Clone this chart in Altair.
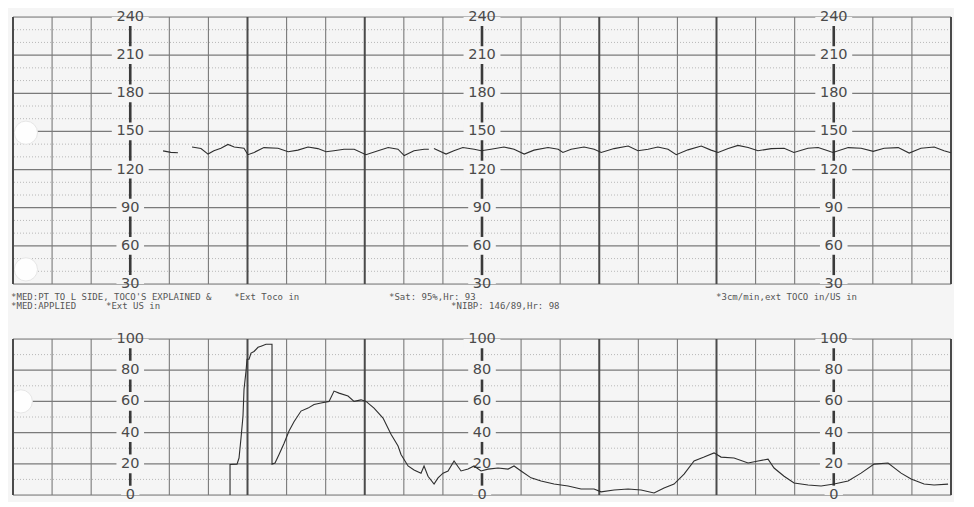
import altair as alt
import pandas as pd

# ---------------- data ----------------
# Fetal heart rate trace: time (min), bpm, segment id (breaks where signal is lost)
fhr_t = [3.84, 4.04, 4.22,
         4.58, 4.81, 4.99, 5.14, 5.32, 5.50, 5.66, 5.91, 6.01, 6.17, 6.42, 6.78, 7.04, 7.29,
         7.55, 7.80, 8.01, 8.21, 8.47, 8.73, 9.03, 9.34, 9.60, 9.85, 10.01, 10.26, 10.52, 10.64,
         10.77, 11.08, 11.28, 11.51, 11.80, 11.98, 12.23, 12.56, 12.82, 13.08, 13.33, 13.69,
         13.95, 14.07, 14.28, 14.61, 14.87, 15.05, 15.38, 15.74, 15.99, 16.25, 16.50, 16.76,
         16.97, 17.27, 17.61, 17.86, 18.04, 18.30, 18.55, 18.81, 19.06, 19.40, 19.73, 19.98,
         20.34, 20.60, 20.85, 20.98, 21.37, 21.70, 22.01, 22.29, 22.65, 22.93, 23.23, 23.57,
         23.82, 24.0]
fhr_v = [134.7, 133.5, 133.2,
         137.8, 136.6, 132.2, 134.8, 136.8, 139.8, 137.8, 136.8, 131.7, 133.5, 137.3, 136.8, 134.0, 135.3,
         137.8, 136.5, 134.0, 134.8, 136.0, 136.0, 131.7, 134.8, 137.3, 136.0, 131.0, 134.8, 136.0, 136.0,
         136.5, 132.2, 134.8, 137.3, 136.0, 134.8, 136.0, 137.8, 136.0, 132.2, 135.3, 137.3,
         136.0, 133.5, 136.0, 137.8, 136.0, 133.5, 136.5, 138.5, 134.8, 136.0, 137.8, 136.0,
         131.7, 135.5, 138.5, 135.3, 133.5, 136.5, 139.0, 137.3, 134.8, 136.5, 136.8, 133.5,
         136.8, 137.3, 134.8, 133.5, 137.3, 136.8, 134.3, 136.8, 137.3, 133.0, 136.8, 137.8,
         134.8, 133.2]
fhr_seg = [1] * 3 + [2] * 28 + [3] * 50

# Uterine activity (toco) trace: time (min), value
toco_t = [5.553, 5.553, 5.732, 5.783, 5.834, 5.885, 5.911, 5.962, 5.988, 6.039, 6.090, 6.167,
          6.269, 6.346, 6.474, 6.627, 6.627, 6.704, 6.807, 6.934, 7.062, 7.190, 7.369, 7.549,
          7.702, 7.881, 8.086, 8.214, 8.342, 8.572, 8.726, 8.905, 9.033, 9.237, 9.468, 9.672,
          9.852, 9.928, 10.108, 10.261, 10.440, 10.517, 10.619, 10.773, 10.875, 11.003, 11.131,
          11.285, 11.464, 11.643, 11.796, 11.975, 12.155, 12.410, 12.666, 12.820, 12.999, 13.255,
          13.511, 13.843, 14.202, 14.534, 14.867, 15.046, 15.379, 15.737, 16.070, 16.402, 16.658,
          16.914, 17.170, 17.426, 17.682, 17.937, 18.117, 18.449, 18.808, 19.064, 19.319, 19.473,
          19.729, 19.985, 20.343, 20.676, 21.008, 21.366, 21.699, 22.032, 22.390, 22.723, 22.979,
          23.311, 23.567, 23.925]
toco_v = [0, 19.6, 19.8, 23.7, 36.5, 50.6, 67.8, 79.4, 87, 87, 91, 92,
          94.7, 95.4, 96.6, 96.6, 19.8, 20.5, 26, 33, 41, 47, 53.8, 55.7,
          58, 59, 60, 66.6, 65.3, 63.4, 60, 61, 60, 55.7, 49.3, 39,
          31.4, 26, 18.6, 16, 14, 18.6, 12, 7, 11, 14, 15.4,
          21.8, 15.4, 16.6, 18.6, 15.4, 16.6, 17.3, 16.6, 18.6, 15.4, 11,
          9, 7, 5.8, 3.8, 3.8, 2, 3.2, 3.8, 3.2, 1.3, 4.5,
          7, 13.4, 21.8, 24.3, 27, 24.3, 23.7, 20.5, 21.8, 23, 17.3,
          12, 7.7, 6.4, 5.8, 7, 9, 14, 19.8, 20.5, 14, 10.2,
          7, 6.4, 7]

# grid
minutes_minor = [1, 2, 4, 5, 7, 8, 10, 11, 13, 14, 16, 17, 19, 20, 22, 23]
minutes_major = [0, 6, 9, 15, 18, 24]
label_minutes = [3, 12, 21]
fhr_ticks = [30, 60, 90, 120, 150, 180, 210, 240]
fhr_dotted = [40, 50, 70, 80, 100, 110, 130, 140, 160, 170, 190, 200, 220, 230]
toco_ticks = [0, 20, 40, 60, 80, 100]
toco_dotted = [10, 30, 50, 70, 90]

# punch holes of the paper strip (time, value on each panel's scale)
fhr_holes_t = [0.33, 0.33]
fhr_holes_v = [149, 41.5]
toco_holes_t = [0.2]
toco_holes_v = [60]

# annotations printed on the strip, below the FHR grid (y on the FHR scale)
ann_text = ["*MED:PT TO L SIDE, TOCO'S EXPLAINED &", "*Ext Toco in", "*Sat: 95%,Hr: 93",
            "*3cm/min,ext TOCO in/US in", "*MED:APPLIED", "*Ext US in", "*NIBP: 146/89,Hr: 98"]
ann_t = [-0.05, 5.66, 9.62, 17.99, -0.05, 2.38, 11.21]
ann_y = [19.8, 19.8, 19.8, 19.8, 12.7, 12.7, 12.7]

# ---------------- styling ----------------
BG = "#f5f5f5"
MINOR = "#7a7a7a"
MAJOR = "#4a4a4a"
TRACE = "#2e2e2e"
W = 938
PX_PER_MIN = W / 24.0

xs = alt.Scale(domain=[0, 24], nice=False, zero=False)


def panel(ticks, dotted, yscale, height, lab_half, extra_layers, holes_t, holes_v):
    df_minor = pd.DataFrame({"t": minutes_minor})
    df_major = pd.DataFrame({"t": minutes_major})
    df_lab = pd.DataFrame({"t": label_minutes})
    df_ticks = pd.DataFrame({"v": ticks})
    df_dot = pd.DataFrame({"v": dotted})
    df_holes = pd.DataFrame({"t": holes_t, "v": holes_v})
    df_labels = pd.DataFrame([{"t": t, "v": v, "lab": str(v)} for t in label_minutes for v in ticks])

    dots = alt.Chart(df_dot).mark_rule(color="#b8b8b8", strokeDash=[1, 2], strokeWidth=1).encode(
        y=alt.Y("v:Q", scale=yscale, axis=None))
    vminor = alt.Chart(df_minor).mark_rule(color=MINOR, strokeWidth=1.1).encode(
        x=alt.X("t:Q", scale=xs, axis=None))
    hlines = alt.Chart(df_ticks).mark_rule(color=MINOR, strokeWidth=1.2).encode(
        y=alt.Y("v:Q", scale=yscale, axis=None))
    holes = alt.Chart(df_holes).mark_circle(
        size=540, color="#fefefe", opacity=1, stroke="#e6e6e6", strokeWidth=1, clip=True
    ).encode(x=alt.X("t:Q", scale=xs, axis=None), y=alt.Y("v:Q", scale=yscale, axis=None))
    vmajor = alt.Chart(df_major).mark_rule(color=MAJOR, strokeWidth=2).encode(
        x=alt.X("t:Q", scale=xs, axis=None))
    vlab = alt.Chart(df_lab).mark_rule(color="#3a3a3a", strokeWidth=2.6).encode(
        x=alt.X("t:Q", scale=xs, axis=None))
    rects = alt.Chart(df_labels).transform_calculate(
        hw=f"(length(datum.lab) * 9.3 + 9) / 2 / {PX_PER_MIN}",
        x1="datum.t - datum.hw", x2="datum.t + datum.hw",
        y1=f"datum.v - {lab_half}", y2=f"datum.v + {lab_half}",
    ).mark_rect(color=BG, clip=True).encode(
        x=alt.X("x1:Q", scale=xs, axis=None), x2="x2:Q",
        y=alt.Y("y1:Q", scale=yscale, axis=None), y2="y2:Q")
    texts = alt.Chart(df_labels).mark_text(
        font="DejaVu Sans", fontSize=14.5, color="#4a4a4a", align="center", baseline="middle"
    ).encode(x=alt.X("t:Q", scale=xs, axis=None), y=alt.Y("v:Q", scale=yscale, axis=None),
             text="lab:N")
    return alt.layer(dots, vminor, hlines, holes, vmajor, vlab, rects, texts, *extra_layers).properties(
        width=W, height=height)


# top panel (FHR) with the printed annotations beneath it
fhr_scale = alt.Scale(domain=[30, 240], nice=False, zero=False)
df_fhr = pd.DataFrame({"t": fhr_t, "v": fhr_v, "seg": fhr_seg})
fhr_line = alt.Chart(df_fhr).mark_line(color=TRACE, strokeWidth=1.1).encode(
    x=alt.X("t:Q", scale=xs, axis=None), y=alt.Y("v:Q", scale=fhr_scale, axis=None),
    detail="seg:N")
df_ann = pd.DataFrame({"t": ann_t, "v": ann_y, "txt": ann_text})
ann = alt.Chart(df_ann).mark_text(
    font="DejaVu Sans Mono", fontSize=9, color="#555555", align="left", baseline="middle"
).encode(
    x=alt.X("t:Q", scale=xs, axis=None),
    y=alt.Y("v:Q", scale=fhr_scale, axis=None),
    text="txt:N",
)
top = panel(fhr_ticks, fhr_dotted, fhr_scale, 267, 7, [fhr_line, ann], fhr_holes_t, fhr_holes_v)

# bottom panel (toco)
toco_scale = alt.Scale(domain=[0, 100], nice=False, zero=False)
df_toco = pd.DataFrame({"t": toco_t, "v": toco_v, "i": list(range(len(toco_t)))})
toco_line = alt.Chart(df_toco).mark_line(color=TRACE, strokeWidth=1.1).encode(
    x=alt.X("t:Q", scale=xs, axis=None), y=alt.Y("v:Q", scale=toco_scale, axis=None),
    order="i:Q")
bottom = panel(toco_ticks, toco_dotted, toco_scale, 156, 6, [toco_line], toco_holes_t, toco_holes_v)

chart = alt.vconcat(top, bottom, spacing=18).properties(
    padding={"left": 2, "top": 0, "right": 0, "bottom": 0}
).configure_view(strokeWidth=0, stroke=BG, fill=BG).configure(background=BG)

chart.save("out.html", embed_options={"renderer": "svg", "actions": False})
